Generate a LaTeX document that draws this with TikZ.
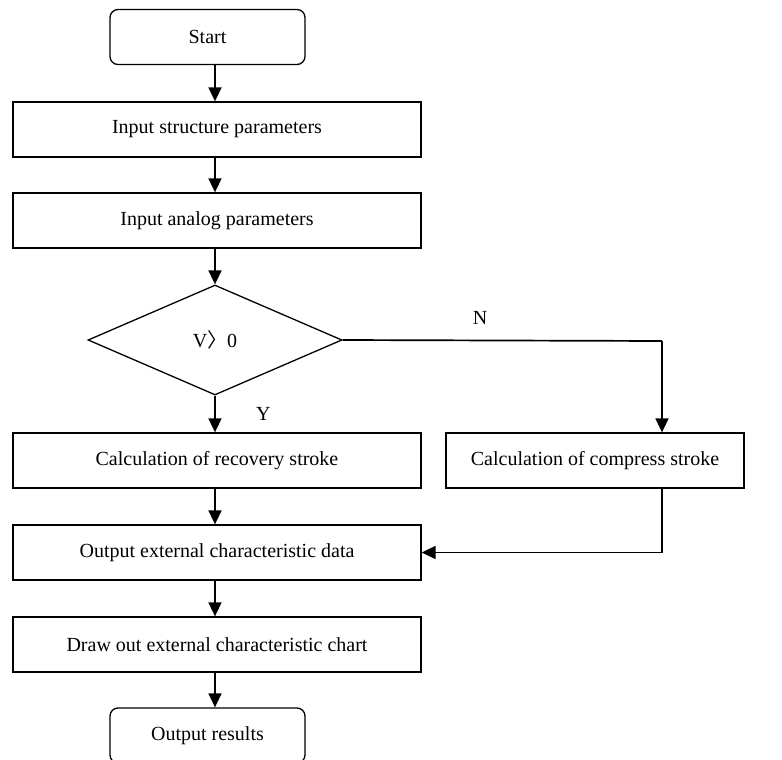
\documentclass[tikz,border=0pt]{standalone}
\usepackage{fontspec}
\setmainfont{Liberation Serif}
\newfontfamily\cjk{Noto Sans CJK SC}
\usetikzlibrary{arrows.meta, shapes.geometric, positioning}

\begin{document}
\begin{tikzpicture}[x=1pt, y=-1pt, font=\fontsize{20}{24}\selectfont,
  box/.style={draw, line width=1.3pt, minimum height=55pt, inner sep=0pt},
  mainbox/.style={box, minimum width=408pt},
  endbox/.style={box, rounded corners=8pt, minimum width=195pt},
  decbox/.style={draw, line width=1.3pt, diamond, aspect=2.3, minimum width=254pt, minimum height=110pt, inner sep=0pt},
  arr/.style={line width=1.7pt, -{Triangle[length=14pt, width=13pt]}}]

\useasboundingbox (0,0) rectangle (782,760);

\node[endbox] (start) at (207.5,37) {Start};
\node[mainbox] (struct) at (217,129.5) {Input structure parameters};
\node[mainbox] (analog) at (217,220.5) {Input analog parameters};
\node[decbox] (dec) at (215,340) {V{\cjk 〉}0};
\node[mainbox] (recov) at (217,460.5) {Calculation of recovery stroke};
\node[box, minimum width=298pt] (comp) at (595,460.5) {Calculation of compress stroke};
\node[mainbox] (data) at (217,552.5) {Output external characteristic data};
\node[mainbox] (chart) at (217,644.5) {Draw out external characteristic chart};
\node[endbox] (result) at (207.5,735.5) {Output results};

\coordinate (ncorner) at (662,341);

\draw[arr] (start.south -| dec.north) -- (dec.north |- struct.north);
\draw[arr] (struct.south -| dec.north) -- (dec.north |- analog.north);
\draw[arr] (analog.south -| dec.north) -- (dec.north);
\draw[arr] (dec.south) -- (dec.south |- recov.north) node[pos=0.5, right=37pt] {Y};
\draw[line width=1.7pt] (dec.east) -- (ncorner) node[pos=0.43, above=12pt] {N};
\draw[arr] (ncorner) -- (ncorner |- comp.north);
\draw[arr] (ncorner |- comp.south) |- (data.east);
\draw[arr] (recov.south -| dec.south) -- (dec.south |- data.north);
\draw[arr] (data.south -| dec.south) -- (dec.south |- chart.north);
\draw[arr] (chart.south -| dec.south) -- (dec.south |- result.north);

\end{tikzpicture}
\end{document}
